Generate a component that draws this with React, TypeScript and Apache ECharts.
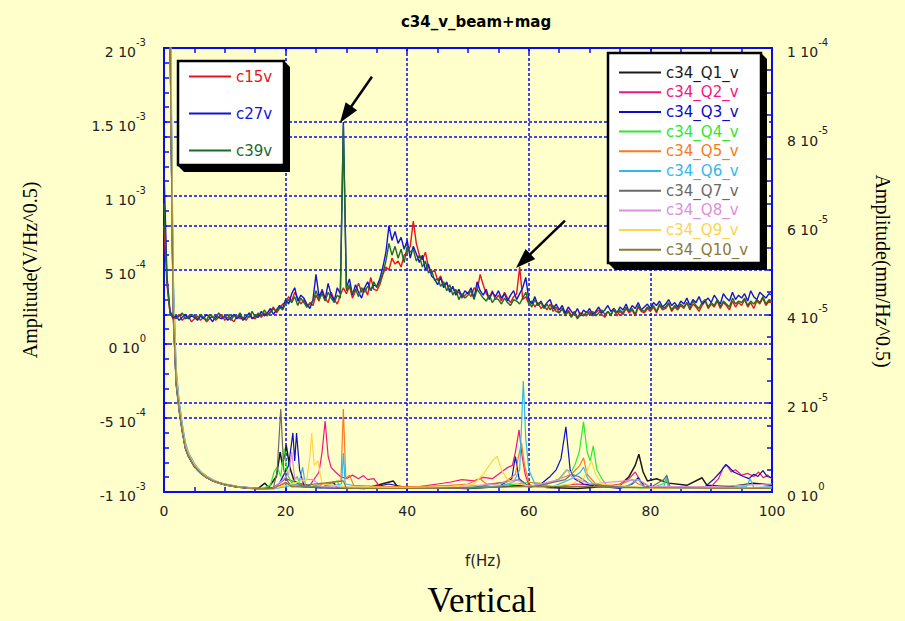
import React, { useEffect, useRef } from 'react';
import * as echarts from 'echarts';

// ---------- data (amplitudes stored in units of 1e-5) ----------
const UNIT = 1e-5;
const FREQ_STEP = 0.5; // Hz between samples of the beam (left-axis) spectra

const C15V = [
  80, 40, 21, 17, 18, 20, 16, 18, 19, 15,
  17, 19, 16, 18, 15, 17, 19, 16, 18, 20,
  16, 18, 17, 15, 19, 17, 18, 16, 19, 18,
  17, 20, 18, 21, 19, 22, 25, 21, 24, 27,
  28, 32, 29, 35, 31, 27, 30, 25, 28, 26,
  33, 29, 37, 31, 28, 35, 30, 27, 33, 38,
  34, 39, 31, 36, 41, 35, 38, 33, 45, 37,
  36, 40, 47, 52, 50, 58, 54, 56, 52, 60,
  62, 66, 83, 68, 60, 57, 62, 52, 48, 50,
  43, 46, 39, 41, 36, 38, 34, 35, 31, 33,
  35, 32, 38, 36, 47, 40, 34, 31, 36, 30,
  33, 29, 35, 31, 28, 32, 34, 52, 30, 32,
  27, 29, 25, 28, 24, 26, 23, 27, 22, 25,
  21, 24, 20, 23, 19, 22, 18, 21, 20, 19,
  22, 19, 21, 23, 20, 18, 22, 20, 23, 19,
  22, 20, 24, 21, 23, 19, 25, 22, 21, 24,
  22, 25, 21, 26, 23, 24, 27, 22, 25, 23,
  26, 24, 28, 23, 27, 25, 22, 26, 29, 24,
  27, 25, 29, 24, 28, 26, 23, 29, 25, 28,
  26, 30, 25, 28, 24, 29, 27, 31, 26, 29, 28,
];

const C27V = [
  117, 45, 22, 18, 19, 16, 18, 20, 17, 19,
  18, 16, 19, 17, 20, 18, 15, 19, 18, 17,
  19, 16, 18, 20, 17, 19, 16, 18, 21, 17,
  19, 18, 22, 19, 21, 24, 20, 23, 26, 24,
  30, 27, 34, 38, 29, 33, 31, 27, 24, 30,
  47, 32, 36, 30, 41, 33, 29, 38, 34, 150,
  38, 44, 33, 40, 35, 31, 38, 42, 36, 40,
  39, 44, 52, 62, 80, 70, 76, 68, 72, 64,
  70, 58, 66, 61, 55, 60, 50, 54, 46, 44,
  40, 45, 38, 42, 35, 39, 33, 37, 32, 36,
  34, 38, 31, 42, 36, 33, 37, 30, 35, 32,
  36, 31, 34, 29, 33, 36, 30, 34, 38, 45,
  30, 27, 32, 26, 29, 25, 28, 30, 24, 27,
  23, 26, 21, 25, 22, 20, 24, 19, 23, 21,
  24, 20, 22, 25, 21, 23, 26, 22, 24, 21,
  25, 23, 27, 22, 26, 24, 28, 23, 25, 27,
  24, 28, 26, 29, 25, 27, 30, 26, 28, 25,
  29, 27, 31, 26, 30, 28, 32, 27, 29, 31,
  28, 33, 30, 27, 34, 31, 29, 35, 30, 33,
  31, 34, 29, 36, 32, 30, 35, 33, 31, 34, 33,
];

const C39V = [
  95, 42, 20, 19, 17, 19, 21, 17, 18, 20,
  19, 17, 20, 18, 16, 20, 18, 17, 21, 18,
  18, 20, 16, 19, 18, 21, 17, 20, 18, 22,
  18, 21, 19, 23, 20, 21, 24, 22, 25, 23,
  27, 30, 28, 32, 26, 31, 28, 25, 27, 29,
  36, 30, 34, 29, 35, 31, 28, 33, 31, 148,
  36, 40, 34, 37, 32, 38, 35, 39, 36, 42,
  38, 42, 48, 56, 68, 60, 66, 58, 64, 55,
  66, 62, 64, 56, 60, 52, 56, 48, 50, 43,
  44, 39, 42, 36, 40, 33, 37, 30, 34, 31,
  33, 36, 30, 37, 34, 31, 29, 33, 28, 31,
  30, 27, 31, 28, 26, 30, 29, 27, 31, 35,
  28, 25, 30, 26, 28, 24, 27, 23, 26, 22,
  21, 24, 19, 22, 18, 21, 17, 20, 19, 22,
  20, 22, 19, 21, 23, 20, 22, 19, 24, 21,
  23, 21, 25, 22, 24, 20, 26, 23, 22, 25,
  23, 26, 22, 27, 24, 25, 28, 23, 26, 24,
  27, 25, 28, 24, 29, 26, 24, 28, 30, 25,
  28, 26, 30, 25, 29, 27, 25, 31, 27, 29,
  28, 31, 26, 29, 27, 30, 28, 32, 27, 30, 29,
];

// magnet spectra (right axis): [f (Hz), amplitude (1e-5 mm/Hz^0.5)]
const Q1 = [[0,14],[0.5,13.5],[1,10.5],[1.5,4.2],[2,2.5],[2.5,1.9],[3,1.4],[3.5,1.0],[4,0.82],[5,0.58],[6,0.44],[7,0.33],[8,0.26],[9,0.21],[10,0.17],[12,0.12],[14,0.09],[15.5,0.08],[16.6,0.2],[17.2,0.1],[18.5,0.35],[19.1,0.9],[19.5,0.6],[20.1,1.05],[20.7,0.55],[21.4,0.25],[23,0.12],[26,0.1],[27.8,0.22],[28.5,0.1],[33,0.08],[37.7,0.25],[38.5,0.1],[44,0.1],[50,0.08],[55,0.12],[60,0.15],[63,0.1],[68,0.08],[72,0.12],[75,0.15],[76.5,0.35],[77.5,0.6],[78.1,0.85],[78.8,0.45],[79.5,0.25],[81,0.3],[83,0.2],[86,0.15],[88.5,0.32],[89.3,0.15],[93,0.12],[97,0.2],[100,0.15]];
const Q2 = [[0,15],[0.5,14],[1,11.5],[1.5,4.8],[2,2.7],[2.5,2.0],[3,1.5],[3.5,1.1],[4,0.88],[5,0.62],[6,0.46],[7,0.35],[8,0.27],[9,0.22],[10,0.18],[12,0.13],[14,0.1],[16,0.08],[18,0.1],[20,0.3],[22,0.2],[24,0.15],[25.5,0.45],[26,0.9],[26.5,1.6],[27,0.8],[27.5,0.55],[28.2,0.45],[29,0.35],[30,0.3],[31,0.38],[32,0.3],[32.8,0.37],[33.5,0.28],[34.5,0.3],[35.5,0.12],[38,0.1],[42,0.12],[45,0.18],[47,0.22],[49,0.28],[51,0.25],[52.5,0.33],[54,0.3],[55.5,0.45],[56.5,0.55],[57.3,0.6],[57.8,0.9],[58.4,1.4],[58.9,0.8],[59.4,0.4],[60,0.15],[64,0.12],[68,0.18],[72,0.12],[75,0.18],[76.5,0.3],[77.5,0.45],[78.5,0.22],[80,0.12],[86,0.12],[90,0.12],[91.2,0.3],[92,0.55],[92.6,0.6],[93.3,0.45],[94,0.5],[95,0.38],[96,0.42],[97,0.35],[97.8,0.45],[98.6,0.32],[99.3,0.38],[100,0.3]];
const Q3 = [[0,14.5],[0.5,13],[1,10],[1.5,4.0],[2,2.4],[2.5,1.8],[3,1.35],[3.5,0.98],[4,0.8],[5,0.56],[6,0.42],[7,0.32],[8,0.25],[9,0.2],[10,0.16],[12,0.11],[14,0.08],[16,0.07],[18,0.08],[19,0.2],[20.5,0.6],[21.2,1.33],[21.5,0.7],[21.8,1.33],[22.3,0.5],[23,0.15],[25,0.1],[30,0.08],[34,0.1],[37,0.18],[40,0.1],[46,0.08],[52,0.1],[55,0.12],[57.2,0.3],[57.8,0.8],[58.4,0.3],[60,0.12],[62,0.18],[63.5,0.35],[64.5,0.5],[65.3,0.75],[66.1,1.47],[66.8,0.5],[67.5,0.3],[69,0.18],[72,0.12],[75,0.08],[77,0.18],[78,0.32],[79,0.12],[84,0.08],[89,0.12],[90.5,0.3],[91.5,0.45],[92.4,0.62],[93,0.55],[93.7,0.45],[94.5,0.4],[95.3,0.35],[96.2,0.3],[97,0.4],[97.7,0.35],[98.5,0.48],[99.2,0.35],[100,0.32]];
const Q4 = [[0,15],[0.5,14],[1,11],[1.5,4.5],[2,2.6],[2.5,1.95],[3,1.45],[3.5,1.05],[4,0.86],[5,0.6],[6,0.45],[7,0.34],[8,0.26],[9,0.21],[10,0.17],[12,0.12],[14,0.09],[16,0.07],[17.5,0.15],[18.1,0.45],[18.6,0.56],[19.2,0.35],[19.8,0.97],[20.3,0.4],[21,0.2],[21.9,0.35],[22.5,0.12],[26,0.1],[28.5,0.25],[29,0.1],[35,0.08],[45,0.08],[52,0.1],[58,0.18],[60,0.22],[63,0.18],[65,0.3],[66.2,0.5],[67,0.45],[67.6,0.62],[68.3,0.9],[69,1.58],[69.6,0.9],[70.1,0.7],[70.6,1.04],[71.2,0.5],[72,0.3],[73,0.12],[78,0.1],[80,0.08],[82.3,0.2],[82.6,0.3],[83,0.08],[90,0.08],[100,0.08]];
const Q5 = [[0,15],[0.5,13.8],[1,10.8],[1.5,4.3],[2,2.55],[2.5,1.9],[3,1.42],[3.5,1.02],[4,0.84],[5,0.59],[6,0.44],[7,0.33],[8,0.26],[9,0.2],[10,0.17],[12,0.12],[14,0.09],[16,0.07],[18,0.08],[20,0.2],[24,0.12],[29.1,0.25],[29.5,1.87],[29.9,0.3],[30.5,0.38],[31.2,0.15],[36,0.12],[42,0.12],[47,0.15],[50,0.18],[52,0.3],[53,0.18],[56,0.22],[57.8,0.4],[58.3,0.8],[58.8,1.1],[59.3,0.6],[60,0.22],[63,0.18],[66,0.35],[67,0.4],[68.4,0.6],[69,0.77],[69.6,0.4],[71,0.18],[74,0.12],[77,0.28],[78,0.18],[80,0.08],[90,0.1],[100,0.08]];
const Q6 = [[0,15],[0.5,14.5],[1,12],[1.5,5.0],[2,2.8],[2.5,2.05],[3,1.55],[3.5,1.12],[4,0.9],[5,0.64],[6,0.47],[7,0.36],[8,0.28],[9,0.22],[10,0.18],[12,0.13],[14,0.1],[16,0.08],[18,0.07],[20,0.12],[22.2,0.18],[22.8,0.56],[23.3,0.12],[26,0.1],[29.2,0.18],[29.5,0.88],[29.8,0.18],[34,0.08],[40,0.08],[48,0.1],[55,0.12],[57.5,0.22],[58.5,0.5],[59.1,2.5],[59.5,1.2],[60,0.5],[61,0.18],[64,0.12],[67,0.3],[68.5,0.45],[69,0.56],[69.7,0.3],[71,0.12],[76,0.12],[78,0.28],[79,0.1],[82.2,0.12],[82.7,0.35],[83.2,0.08],[90,0.08],[95.8,0.12],[96.4,0.3],[97,0.1],[100,0.12]];
const Q7 = [[0,15],[0.5,13.5],[1,10.2],[1.5,4.0],[2,2.45],[2.5,1.82],[3,1.38],[3.5,1.0],[4,0.81],[5,0.57],[6,0.43],[7,0.32],[8,0.25],[9,0.2],[10,0.16],[12,0.11],[14,0.08],[16,0.07],[18,0.1],[18.6,0.45],[19.2,1.87],[19.7,0.5],[20.3,0.25],[21,0.12],[30,0.08],[40,0.08],[50,0.08],[58.5,0.28],[60,0.1],[66,0.28],[67,0.4],[68.2,0.35],[70,0.18],[75,0.1],[80,0.1],[82.2,0.28],[82.7,0.38],[83.2,0.12],[90,0.08],[100,0.08]];
const Q8 = [[0,15],[0.5,14],[1,10.6],[1.5,4.1],[2,2.5],[2.5,1.86],[3,1.4],[3.5,1.02],[4,0.83],[5,0.58],[6,0.44],[7,0.33],[8,0.26],[9,0.21],[10,0.17],[12,0.12],[14,0.09],[16,0.07],[18,0.08],[20.5,0.4],[21,0.9],[21.5,0.3],[24.5,0.28],[26,0.12],[35,0.1],[45,0.1],[55,0.18],[58,0.28],[60,0.12],[65,0.28],[66.3,0.5],[67,0.35],[70,0.18],[78,0.28],[80,0.12],[90,0.12],[100,0.18]];
const Q9 = [[0,15],[0.5,14.2],[1,11.2],[1.5,4.6],[2,2.65],[2.5,1.96],[3,1.47],[3.5,1.06],[4,0.87],[5,0.61],[6,0.46],[7,0.34],[8,0.27],[9,0.21],[10,0.17],[12,0.12],[14,0.09],[16,0.07],[18,0.08],[20,0.15],[23.5,0.28],[24,0.8],[24.3,1.33],[24.7,0.6],[25.3,0.7],[26,0.18],[30,0.12],[40,0.1],[48,0.12],[51,0.18],[52.5,0.4],[53.5,0.6],[54.3,0.75],[54.8,0.8],[55.5,0.5],[56.5,0.28],[58,0.18],[62,0.1],[67,0.18],[69,0.3],[70.3,0.7],[71,0.4],[72,0.18],[80,0.08],[90,0.1],[100,0.08]];
const Q10 = [[0,15],[0.5,13.8],[1,10.4],[1.5,4.1],[2,2.5],[2.5,1.88],[3,1.4],[3.5,1.01],[4,0.83],[5,0.58],[6,0.44],[7,0.33],[8,0.26],[9,0.21],[10,0.17],[12,0.12],[14,0.09],[16,0.07],[18,0.08],[20,0.22],[21,0.12],[29.5,0.25],[30,0.08],[40,0.08],[60,0.12],[70,0.12],[80,0.1],[100,0.08]];

const BEAM_NAMES = ['c15v', 'c27v', 'c39v'];
const BEAM_COLORS = ['#e8141c', '#1414d8', '#1c6a2c'];
const BEAM_DATA = [C15V, C27V, C39V];

const MAG_NAMES = ['c34_Q1_v', 'c34_Q2_v', 'c34_Q3_v', 'c34_Q4_v', 'c34_Q5_v', 'c34_Q6_v', 'c34_Q7_v', 'c34_Q8_v', 'c34_Q9_v', 'c34_Q10_v'];
const MAG_COLORS = ['#1a1a1a', '#f5157f', '#0b0bc8', '#2ee82e', '#fa7a22', '#33b8ea', '#6a6a6a', '#de8ede', '#fbd54a', '#8a7a38'];
const MAG_DATA = [Q1, Q2, Q3, Q4, Q5, Q6, Q7, Q8, Q9, Q10];

// arrow annotations: [tail, head] in (Hz, V/Hz^0.5)
const ARROWS = [
  [[34.2, 1.806e-3], [29.88, 1.551e-3]],
  [[65.95, 8.33e-4], [59.08, 5.61e-4]],
];

const X_MIN = 0, X_MAX = 100, X_INTERVAL = 20;
const L_MIN = -1e-3, L_MAX = 2e-3, L_INTERVAL = 5e-4;
const R_MIN = 0, R_MAX = 1e-4, R_INTERVAL = 2e-5;

// ---------- styling ----------
const BG = '#ffffcc';
const BLUE = '#0a0af0';
const SANS = '"DejaVu Sans", sans-serif';
const SERIF = '"Liberation Serif", "Times New Roman", serif';

function sci(v: number): string {
  if (Math.abs(v) < 1e-12) return '{m|0 10}{e|0}';
  const e = Math.floor(Math.log10(Math.abs(v)) + 1e-9);
  const m = Math.round((v / Math.pow(10, e)) * 10) / 10;
  return `{m|${m} 10}{e|${e}}`;
}

const rich = {
  m: { fontFamily: SANS, fontSize: 14, color: '#222', lineHeight: 22, verticalAlign: 'bottom' },
  e: { fontFamily: SANS, fontSize: 10, color: '#222', lineHeight: 12, verticalAlign: 'top' },
};

const gridLine = { show: true, lineStyle: { color: BLUE, width: 1.5, type: [3, 2] } };
const axisLine = { show: true, onZero: false, lineStyle: { color: BLUE, width: 2 } };
const tickStyle = { color: BLUE, width: 1.5 };

function buildOption() {
  const magSeries = MAG_DATA.map((d, i) => ({
    type: 'line',
    name: MAG_NAMES[i],
    xAxisIndex: 0,
    yAxisIndex: 1,
    data: d.map(([f, v]) => [f, v * UNIT]),
    symbol: 'none',
    lineStyle: { color: MAG_COLORS[i], width: i === 0 ? 1.5 : 1.2 },
    itemStyle: { color: MAG_COLORS[i] },
    z: 2,
  }));
  const beamSeries = BEAM_DATA.map((d, i) => ({
    type: 'line',
    name: BEAM_NAMES[i],
    xAxisIndex: 0,
    yAxisIndex: 0,
    data: d.map((v, k) => [k * FREQ_STEP, v * UNIT]),
    symbol: 'none',
    lineStyle: { color: BEAM_COLORS[i], width: 1.4 },
    itemStyle: { color: BEAM_COLORS[i] },
    z: 3,
    markLine: i === 1 ? {
      silent: true,
      symbol: ['none', 'triangle'],
      symbolSize: [14, 20],
      label: { show: false },
      lineStyle: { color: '#000', width: 2.5, type: 'solid' },
      emphasis: { disabled: true },
      data: ARROWS.map(([a, b]) => [{ coord: a }, { coord: b }]),
    } : undefined,
  }));

  return {
    animation: false,
    backgroundColor: BG,
    grid: { left: 164, right: 133, top: 48, bottom: 129, containLabel: false },
    xAxis: [
      {
        type: 'value', position: 'bottom', min: X_MIN, max: X_MAX, interval: X_INTERVAL,
        axisLine, axisTick: { show: true, inside: true, length: 5, lineStyle: tickStyle },
        minorTick: { show: true, splitNumber: 4, length: 5, lineStyle: tickStyle },
        splitLine: gridLine,
        axisLabel: { margin: 12, fontFamily: SANS, fontSize: 14, color: '#222' },
      },
      {
        type: 'value', position: 'top', min: X_MIN, max: X_MAX, interval: X_INTERVAL,
        axisLine, axisTick: { show: true, inside: true, length: 5, lineStyle: tickStyle },
        minorTick: { show: true, splitNumber: 4, length: 5, lineStyle: tickStyle },
        splitLine: { show: false }, axisLabel: { show: false },
      },
    ],
    yAxis: [
      {
        type: 'value', position: 'left', min: L_MIN, max: L_MAX, interval: L_INTERVAL,
        axisLine, axisTick: { show: true, inside: true, length: 5, lineStyle: tickStyle },
        minorTick: { show: true, splitNumber: 5, length: 5, lineStyle: tickStyle },
        splitLine: gridLine,
        axisLabel: { margin: 18, formatter: sci, rich },
      },
      {
        type: 'value', position: 'right', min: R_MIN, max: R_MAX, interval: R_INTERVAL,
        axisLine, axisTick: { show: true, inside: true, length: 5, lineStyle: tickStyle },
        minorTick: { show: true, splitNumber: 4, length: 5, lineStyle: tickStyle },
        splitLine: gridLine,
        axisLabel: { margin: 15, formatter: sci, rich },
      },
    ],
    legend: [
      {
        orient: 'vertical', left: 178, top: 61, padding: [8, 0, 0, 10],
        itemWidth: 42, itemHeight: 14, itemGap: 22, z: 20,
        itemStyle: { opacity: 0 },
        textStyle: { fontFamily: SANS, fontSize: 15, lineHeight: 14 },
        data: BEAM_NAMES.map((n, i) => ({ name: n, textStyle: { color: BEAM_COLORS[i] } })),
        selectedMode: false,
      },
      {
        orient: 'vertical', left: 608, top: 53, padding: [12, 0, 0, 10],
        itemWidth: 42, itemHeight: 14, itemGap: 4.7, z: 20,
        itemStyle: { opacity: 0 },
        textStyle: { fontFamily: SANS, fontSize: 15, lineHeight: 14 },
        data: MAG_NAMES.map((n, i) => ({ name: n, textStyle: { color: MAG_COLORS[i] } })),
        selectedMode: false,
      },
    ],
    graphic: [
      { type: 'polygon', z: 10, silent: true, shape: { points: [[284, 61], [290, 67], [290, 172], [184, 172], [178, 166], [178, 61]] }, style: { fill: '#000' } },
      { type: 'rect', z: 11, silent: true, shape: { x: 178, y: 61, width: 106, height: 104 }, style: { fill: '#fff', stroke: '#000', lineWidth: 2.5 } },
      { type: 'polygon', z: 10, silent: true, shape: { points: [[761, 53], [767, 59], [767, 270], [615, 270], [608, 263], [608, 53]] }, style: { fill: '#000' } },
      { type: 'rect', z: 11, silent: true, shape: { x: 608, y: 53, width: 153, height: 210 }, style: { fill: '#fff', stroke: '#000', lineWidth: 2.5 } },
      { type: 'text', z: 12, x: 476, y: 22, style: { text: 'c34_v_beam+mag', fontFamily: SANS, fontWeight: 'bold', fontSize: 15, fill: '#000', align: 'center', verticalAlign: 'middle' } },
      { type: 'text', z: 12, x: 30, y: 270, rotation: Math.PI / 2, style: { text: 'Amplitude(V/Hz^0.5)', fontFamily: SERIF, fontSize: 20, fill: '#000', align: 'center', verticalAlign: 'middle' } },
      { type: 'text', z: 12, x: 883, y: 271, rotation: -Math.PI / 2, style: { text: 'Amplitude(mm/Hz^0.5)', fontFamily: SERIF, fontSize: 20, fill: '#000', align: 'center', verticalAlign: 'middle' } },
      { type: 'text', z: 12, x: 483, y: 561, style: { text: 'f(Hz)', fontFamily: SANS, fontSize: 15, fill: '#222', align: 'center', verticalAlign: 'middle' } },
      { type: 'text', z: 12, x: 482, y: 600, style: { text: 'Vertical', fontFamily: SERIF, fontSize: 35, fill: '#000', align: 'center', verticalAlign: 'middle' } },
    ],
    series: [...magSeries, ...beamSeries],
  };
}

export default function App() {
  const ref = useRef<HTMLDivElement>(null);
  useEffect(() => {
    if (!ref.current) return;
    const chart = echarts.init(ref.current, null, { renderer: 'svg' });
    chart.setOption(buildOption() as any);
    return () => chart.dispose();
  }, []);
  return <div ref={ref} style={{ position: 'absolute', left: 0, top: 0, width: 905, height: 621 }} />;
}
